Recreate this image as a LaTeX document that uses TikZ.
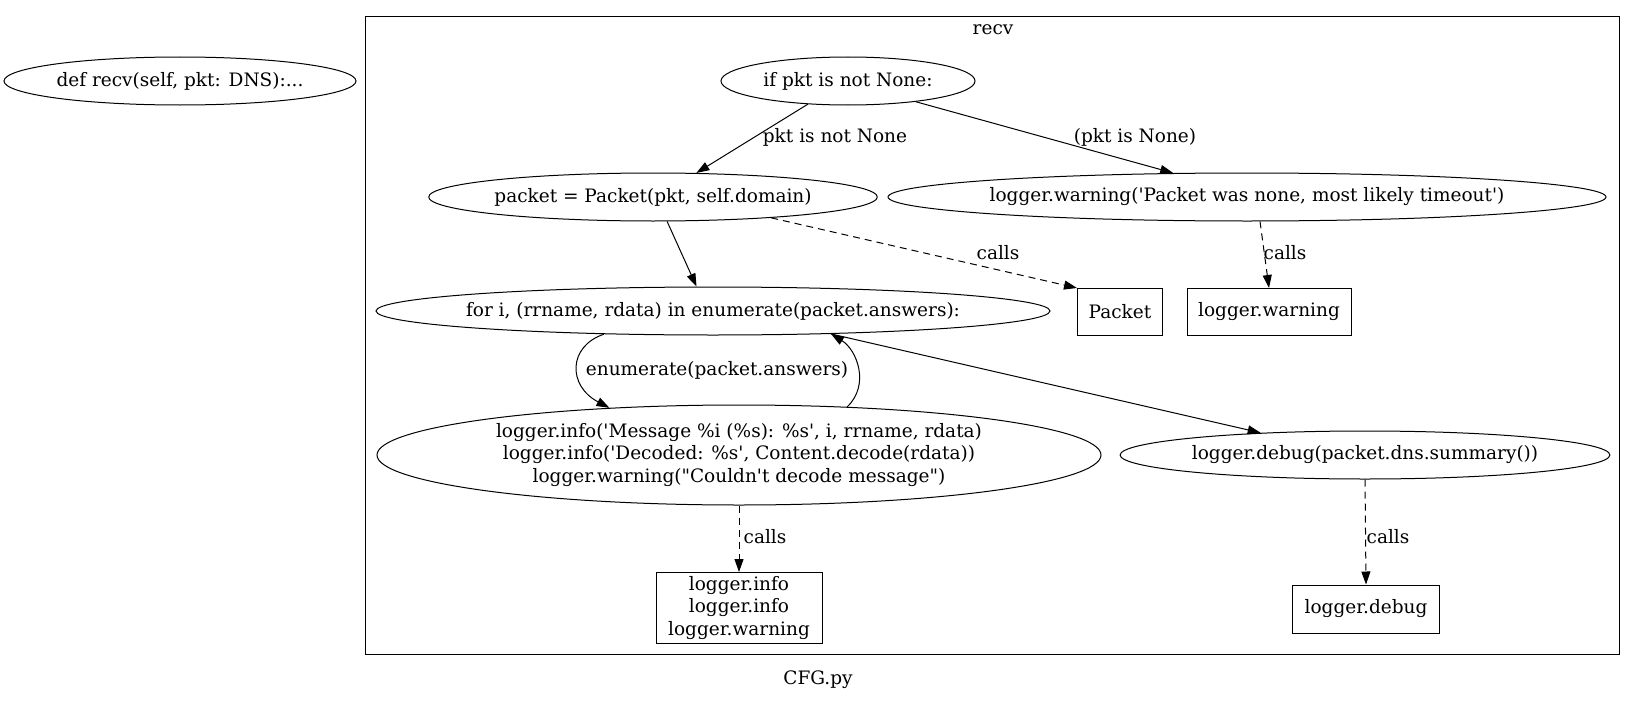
\documentclass[tikz,border=0pt]{standalone}
\usepackage{fontspec}
\setmainfont{DejaVu Serif}[Ligatures=TeXOff]
\usetikzlibrary{shapes.geometric,arrows.meta}
\tikzset{
  base/.style={font=\fontsize{18.5}{22.5}\selectfont, inner sep=0pt, align=center},
  ell/.style={base, draw, ellipse, line width=1pt},
  box/.style={base, draw, rectangle, line width=1pt},
  lbl/.style={base},
  edge/.style={line width=1pt, -{Triangle[length=13pt,width=9pt]}},
  calledge/.style={edge, dash pattern=on 7pt off 5pt},
}
\begin{document}
\begin{tikzpicture}[x=1pt,y=-1pt]
\useasboundingbox (0,0) rectangle (1635,701);
% cluster
\draw[line width=1pt] (365,17) rectangle (1619,654);
\node[lbl] (recvlbl) at (993,30) {recv};
\node[lbl] (cfg) at (818,680) {CFG.py};
% nodes
\node[ell, minimum width=352pt, minimum height=48pt] (def) at (180,81) {def recv(self, pkt: DNS):...};
\node[ell, minimum width=254pt, minimum height=48pt] (if) at (848,81) {if pkt is not None:};
\node[ell, minimum width=442pt, minimum height=48pt] (packet) at (653,197) {packet = Packet(pkt, self.domain)};
\node[ell, minimum width=718pt, minimum height=48pt, inner xsep=-10pt] (warn) at (1247,197) {logger.warning('Packet was none, most likely timeout')};
\node[ell, minimum width=674pt, minimum height=48pt, inner xsep=-10pt] (for) at (713,311) {for i, (rrname, rdata) in enumerate(packet.answers):};
\node[box, minimum width=85pt, minimum height=47pt] (Packet) at (1120,312) {Packet};
\node[box, minimum width=164pt, minimum height=47pt] (lw) at (1269,312) {logger.warning};
\node[ell, minimum width=724pt, minimum height=100pt] (info) at (739,455) {logger.info('Message \%i (\%s): \%s', i, rrname, rdata)\\logger.info('Decoded: \%s', Content.decode(rdata))\\logger.warning("Couldn't decode message")};
\node[ell, minimum width=476pt, minimum height=48pt] (debug) at (1365,455) {logger.debug(packet.dns.summary())};
\node[box, minimum width=166pt, minimum height=71pt] (infobox) at (739,608) {logger.info\\logger.info\\logger.warning};
\node[box, minimum width=147pt, minimum height=48pt] (debugbox) at (1366,609) {logger.debug};
% edges
\draw[edge] (if.210) -- (packet.29);
\draw[edge] (if.343) -- (warn.162);
\draw[calledge] (packet.350) -- (Packet.north west);
\draw[edge] (packet.300) -- (for.124);
\draw[calledge] (warn.298) -- (lw.north);
\draw[edge] (for.192.6) .. controls +(-36,12) and +(-42,-22) .. (info.160);
\draw[edge] (info.24) .. controls +(23,-22) and +(26,16) .. (for.349);
\draw[edge] (for.349) -- (debug.168);
\draw[calledge] (info.south) -- (infobox.north);
\draw[calledge] (debug.south) -- (debugbox.north);
% edge labels
\node[lbl] (l1) at (835,137) {pkt is not None};
\node[lbl] (l2) at (1135,137) {(pkt is None)};
\node[lbl] (l3) at (998,253) {calls};
\node[lbl] (l4) at (1285,253) {calls};
\node[lbl] (l5) at (717,370) {enumerate(packet.answers)};
\node[lbl] (l6) at (765,537) {calls};
\node[lbl] (l7) at (1388,537) {calls};
\end{tikzpicture}
\end{document}
